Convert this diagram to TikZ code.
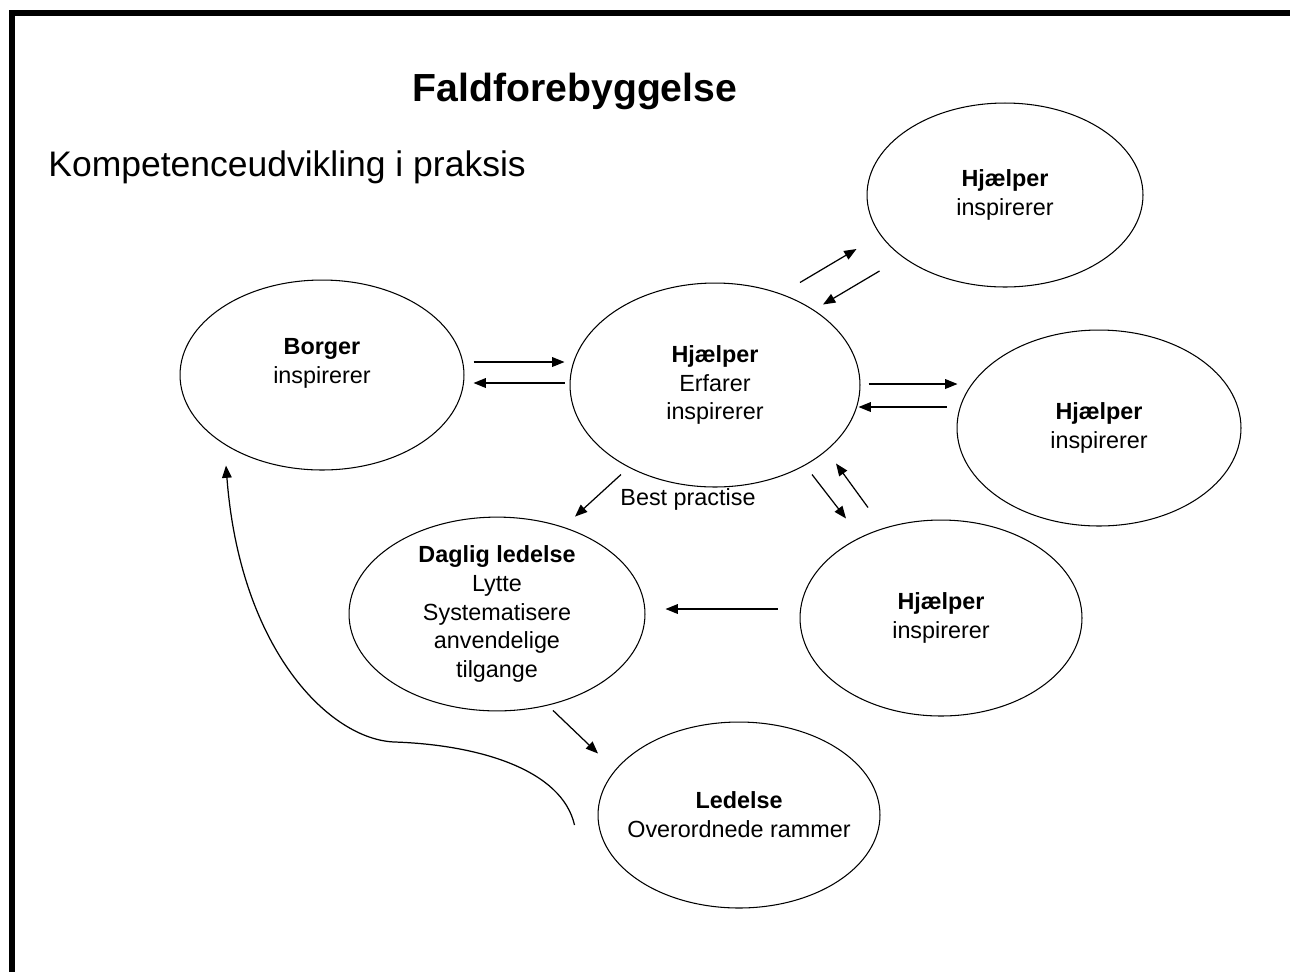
\documentclass[tikz,border=0pt]{standalone}
\usepackage{fontspec}
\setmainfont{Liberation Sans}
\usetikzlibrary{shapes.geometric,arrows.meta}

\tikzset{
  bubble/.style 2 args={draw, ellipse, line width=0.6pt, inner sep=0pt,
    minimum width=#1, minimum height=#2, align=center,
    font=\fontsize{13.3}{16.4}\selectfont},
  txt/.style={align=center, font=\fontsize{13.3}{16.4}\selectfont},
  arr/.style={-{Triangle[length=7pt,width=5.5pt]}, line width=0.7pt}
}

\begin{document}
\begin{tikzpicture}[x=0.02cm,y=-0.02cm]

\useasboundingbox (0,0) rectangle (1290,971);
\draw[line width=0.12cm, line join=miter] (12,975) -- (12,13) -- (1295,13);

\node[font=\fontsize{22.3}{26}\selectfont\bfseries] (title) at (575,91) {Faldforebyggelse};
\node[anchor=west, inner sep=0pt, font=\fontsize{20.2}{24}\selectfont] (sub) at (48,167) {Kompetenceudvikling i praksis};

\node[bubble={5.68cm}{3.8cm}, label={[txt,yshift=0.24cm]center:{\textbf{Borger}\\inspirerer}}] (borger) at (322,375) {};
\node[bubble={5.8cm}{4.08cm}] (hjc) at (715,385) {\textbf{Hjælper}\\Erfarer\\inspirerer};
\node[bubble={5.52cm}{3.68cm}] (hjtr) at (1005,195) {\textbf{Hjælper}\\inspirerer};
\node[bubble={5.68cm}{3.92cm}] (hjr) at (1099,428) {\textbf{Hjælper}\\inspirerer};
\node[bubble={5.64cm}{3.92cm}] (hjbr) at (941,618) {\textbf{Hjælper}\\inspirerer};
\node[bubble={5.92cm}{3.84cm}] (daglig) at (497,614) {\textbf{Daglig ledelse}\\Lytte\\Systematisere\\anvendelige\\tilgange};
\node[bubble={5.64cm}{3.72cm}, label={[txt]center:{\textbf{Ledelse}\\Overordnede rammer}}] (ledelse) at (739,815) {};

\node[txt] (best) at (688,499) {Best practise};

% pile mellem boblerne
\draw[arr] ([shift={(9,-13)}]borger.east) -- ([shift={(-5,-23)}]hjc.west);
\draw[arr] ([shift={(-5,-2)}]hjc.west) -- ([shift={(9,8)}]borger.east);

\draw[arr] ([shift={(85,0)}]hjc.north) -- ([shift={(-10,54)}]hjtr.west);
\draw[arr] ([shift={(13,76)}]hjtr.west) -- ([shift={(108,22)}]hjc.north);

\draw[arr] ([shift={(8,-1)}]hjc.east) -- ([shift={(1,-44)}]hjr.west);
\draw[arr] ([shift={(-10,-21)}]hjr.west) -- ([shift={(-2,22)}]hjc.east);

\draw[arr] ([shift={(-94,-13)}]hjc.south) -- ([shift={(78,0)}]daglig.north);
\draw[arr] ([shift={(97,-13)}]hjc.south) -- ([shift={(-95,-1)}]hjbr.north);
\draw[arr] ([shift={(-73,-12)}]hjbr.north) -- ([shift={(121,-24)}]hjc.south);

\draw[arr] ([shift={(-22,-9)}]hjbr.west) -- ([shift={(20,-5)}]daglig.east);
\draw[arr] ([shift={(56,-1)}]daglig.south) -- ([shift={(-141,32)}]ledelse.north);

% lang bue tilbage til borger
\coordinate (bend) at (395,742);
\draw[arr] ([shift={(-23,10)}]ledelse.west) .. controls (562,770) and (480,745) .. (bend)
  .. controls (330,740) and (240,650) .. ([shift={(-96,-5)}]borger.south);

\end{tikzpicture}
\end{document}
